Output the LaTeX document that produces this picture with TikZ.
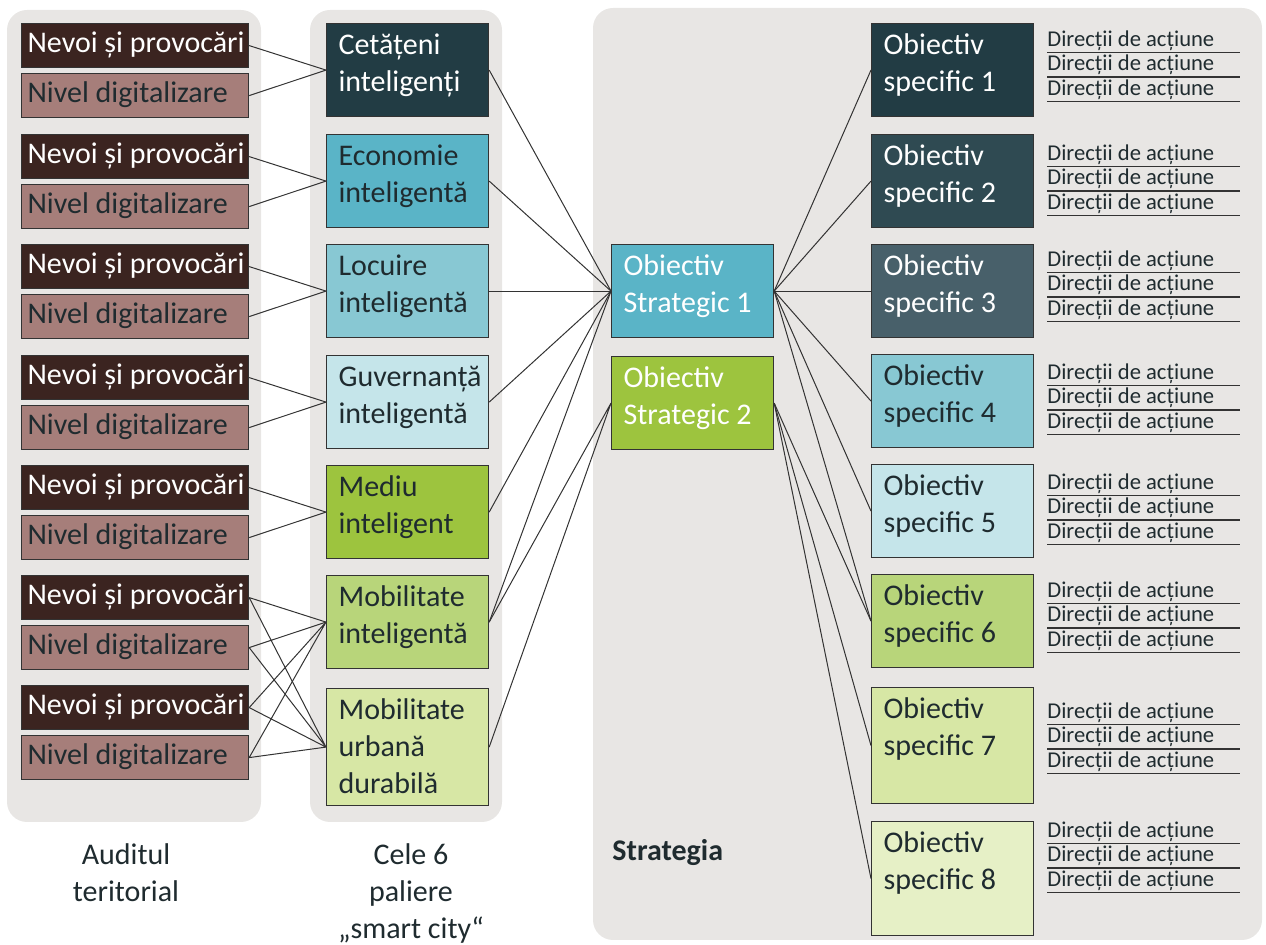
\documentclass[tikz,border=0pt]{standalone}
\usepackage{fontspec}
\setmainfont{Carlito}
\definecolor{panel}{HTML}{E8E6E4}
\definecolor{wire}{HTML}{333333}
\definecolor{ink}{HTML}{1F2B2F}
\definecolor{brownA}{HTML}{3B2420}
\definecolor{roseA}{HTML}{A67E7A}
\definecolor{tealA}{HTML}{223C44}
\definecolor{tealB}{HTML}{2F4A52}
\definecolor{tealC}{HTML}{48606A}
\definecolor{blueA}{HTML}{5AB4C7}
\definecolor{blueB}{HTML}{88C8D3}
\definecolor{blueC}{HTML}{C5E5EA}
\definecolor{greenA}{HTML}{9DC43E}
\definecolor{greenB}{HTML}{B8D57A}
\definecolor{greenC}{HTML}{D7E7A5}
\definecolor{greenD}{HTML}{E6F0C6}
\newcommand{\boxtext}[2][46.5pt]{\parbox[c][#1][t]{69pt}{\raggedright\hyphenpenalty=10000\rule{0pt}{15.5pt}#2}}
\newcommand{\auditline}[1]{\makebox[107.5pt][l]{#1}}
\tikzset{
  pbox/.style={draw=wire, line width=0.6pt, anchor=north west, inner xsep=6pt, inner ysep=0pt,
    font=\fontsize{15pt}{18.5pt}\selectfont, text=ink},
  abox/.style={draw=wire, line width=0.6pt, anchor=north west, minimum height=22pt, inner xsep=3pt,
    inner ysep=0pt, text height=11pt, text depth=4pt, font=\fontsize{15pt}{18.5pt}\selectfont},
  conn/.style={draw=wire, line width=0.5pt},
  dirtext/.style={anchor=base west, inner sep=0pt, font=\fontsize{11.3pt}{13pt}\selectfont, text=ink},
  caption/.style={align=center, anchor=north, inner sep=0pt, font=\fontsize{15pt}{18.5pt}\selectfont, text=ink}
}
\begin{document}
\begin{tikzpicture}[x=0.5pt, y=-0.5pt]
\useasboundingbox (0,0) rectangle (1266,945);
% panouri
\fill[panel, rounded corners=10pt] (7,10) rectangle (261,822);
\fill[panel, rounded corners=10pt] (310,10) rectangle (502,822);
\fill[panel, rounded corners=10pt] (593,8) rectangle (1262,940);
% auditul teritorial
\foreach \i/\t in {1/23,2/134,3/244,4/355,5/465,6/575,7/685}{
  \node[abox, fill=brownA, text=white] (nv\i) at (21,\t) {\auditline{Nevoi și provocări}};
  \node[abox, fill=roseA, text=ink] (nd\i) at (21,\t+50) {\auditline{Nivel digitalizare}};
}
% paliere smart city
\node[pbox, fill=tealA, text=white] (p1) at (326,23) {\boxtext{Cetățeni\\inteligenți}};
\node[pbox, fill=blueA] (p2) at (326,134) {\boxtext{Economie\\inteligentă}};
\node[pbox, fill=blueB] (p3) at (326,244) {\boxtext{Locuire\\inteligentă}};
\node[pbox, fill=blueC] (p4) at (326,355) {\boxtext{Guvernanță\\inteligentă}};
\node[pbox, fill=greenA] (p5) at (326,465) {\boxtext{Mediu\\inteligent}};
\node[pbox, fill=greenB] (p6) at (326,575) {\boxtext{Mobilitate\\inteligentă}};
\node[pbox, fill=greenC] (p7) at (326,688) {\boxtext[58.5pt]{Mobilitate\\urbană\\durabilă}};
% obiective strategice
\node[pbox, fill=blueA, text=white] (s1) at (611,244) {\boxtext{Obiectiv\\Strategic 1}};
\node[pbox, fill=greenA, text=white] (s2) at (611,356) {\boxtext{Obiectiv\\Strategic 2}};
% obiective specifice
\node[pbox, fill=tealA, text=white] (o1) at (871,23) {\boxtext{Obiectiv\\specific 1}};
\node[pbox, fill=tealB, text=white] (o2) at (871,134) {\boxtext{Obiectiv\\specific 2}};
\node[pbox, fill=tealC, text=white] (o3) at (871,244) {\boxtext{Obiectiv\\specific 3}};
\node[pbox, fill=blueB] (o4) at (871,354) {\boxtext{Obiectiv\\specific 4}};
\node[pbox, fill=blueC] (o5) at (871,464) {\boxtext{Obiectiv\\specific 5}};
\node[pbox, fill=greenB] (o6) at (871,574) {\boxtext{Obiectiv\\specific 6}};
\node[pbox, fill=greenC] (o7) at (871,687) {\boxtext[58pt]{Obiectiv\\specific 7}};
\node[pbox, fill=greenD] (o8) at (871,821) {\boxtext[57pt]{Obiectiv\\specific 8}};
% directii de actiune
\foreach \k/\m in {1/77,2/191,3/297,4/410,5/520,6/628,7/749,8/868}
  \foreach \j in {1,2,3}{
    \node[dirtext] (d\k\j) at (1047,{\m+(\j-2)*24.5-6}) {Direcții de acțiune};
    \draw[wire, line width=0.75pt] (d\k\j.base west) ++(0,6) -- ++(193,0);
  }
% legaturi
\foreach \i in {1,...,5}
  \draw[conn] (nv\i.east) -- (p\i.west) (nd\i.east) -- (p\i.west);
\foreach \i in {6,7}
  \draw[conn] (nv\i.east) -- (p6.west) (nd\i.east) -- (p6.west)
              (nv\i.east) -- (p7.west) (nd\i.east) -- (p7.west);
\foreach \i in {1,...,6}
  \draw[conn] (p\i.east) -- (s1.west);
\draw[conn] (p6.east) -- (s2.west) (p7.east) -- (s2.west);
\foreach \i in {1,...,6}
  \draw[conn] (s1.east) -- (o\i.west);
\foreach \i in {6,7,8}
  \draw[conn] (s2.east) -- (o\i.west);
% etichete
\node[anchor=west, inner sep=0pt, font=\bfseries\fontsize{15pt}{18.5pt}\selectfont, text=ink] (strat) at (612,853) {Strategia};
\node[caption] (audit) at (126,843) {Auditul\\teritorial};
\node[caption] (cele) at (411,843) {Cele 6\\paliere\\„smart city“};
\end{tikzpicture}
\end{document}
